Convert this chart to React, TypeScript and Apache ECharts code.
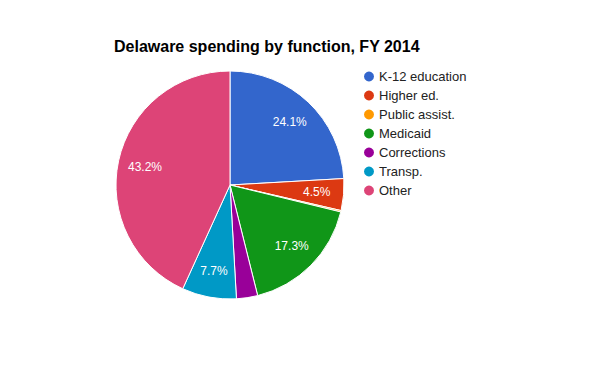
import React, { useEffect, useRef } from "react";
import * as echarts from "echarts";

const categories = ["K-12 education", "Higher ed.", "Public assist.", "Medicaid", "Corrections", "Transp.", "Other"];
const values = [24.1, 4.5, 0.2, 17.3, 3.0, 7.7, 43.2];
const colors = ["#3366cc", "#dc3912", "#ff9900", "#109618", "#990099", "#0099c6", "#dd4477"];
const showLabel = [true, true, false, true, false, true, true];

export default function App() {
  const ref = useRef<HTMLDivElement>(null);
  useEffect(() => {
    const chart = echarts.init(ref.current!, null, { renderer: "svg" });
    const data = categories.map((name, i) => ({
      name,
      value: values[i],
      itemStyle: { color: colors[i] },
    }));
    chart.setOption({
      animation: false,
      color: colors,
      title: {
        text: "Delaware spending by function, FY 2014",
        left: 109,
        top: 33,
        textStyle: { fontFamily: "Liberation Sans, Arial", fontSize: 16, fontWeight: "bold", color: "#000" },
      },
      legend: {
        orient: "vertical",
        left: 357,
        top: 64,
        icon: "circle",
        itemWidth: 12,
        itemHeight: 12,
        itemGap: 4,
        selectedMode: false,
        data: categories,
        textStyle: { fontFamily: "Liberation Sans, Arial", fontSize: 13, lineHeight: 15, color: "#222", padding: [0, 0, 0, -1] },
      },
      series: [
        {
          type: "pie",
          center: [230, 185],
          radius: [0, 114],
          startAngle: 90,
          clockwise: true,
          silent: true,
          label: { show: false },
          labelLine: { show: false },
          itemStyle: { borderColor: "#fff", borderWidth: 1 },
          data,
        },
        {
          type: "pie",
          center: [230, 185],
          radius: [54, 114],
          startAngle: 90,
          clockwise: true,
          silent: true,
          legendHoverLink: false,
          itemStyle: { color: "rgba(0,0,0,0)" },
          label: {
            position: "inside",
            color: "#fff",
            fontSize: 12,
            fontFamily: "Liberation Sans, Arial",
            formatter: (p: any) => (showLabel[p.dataIndex] ? `${values[p.dataIndex].toFixed(1)}%` : ""),
          },
          labelLine: { show: false },
          data: categories.map((name, i) => ({ name: name + " ", value: values[i] })),
        },
      ],
    });
    return () => chart.dispose();
  }, []);
  return <div ref={ref} style={{ position: "fixed", left: 0, top: 0, width: 600, height: 371, background: "#fff" }} />;
}
